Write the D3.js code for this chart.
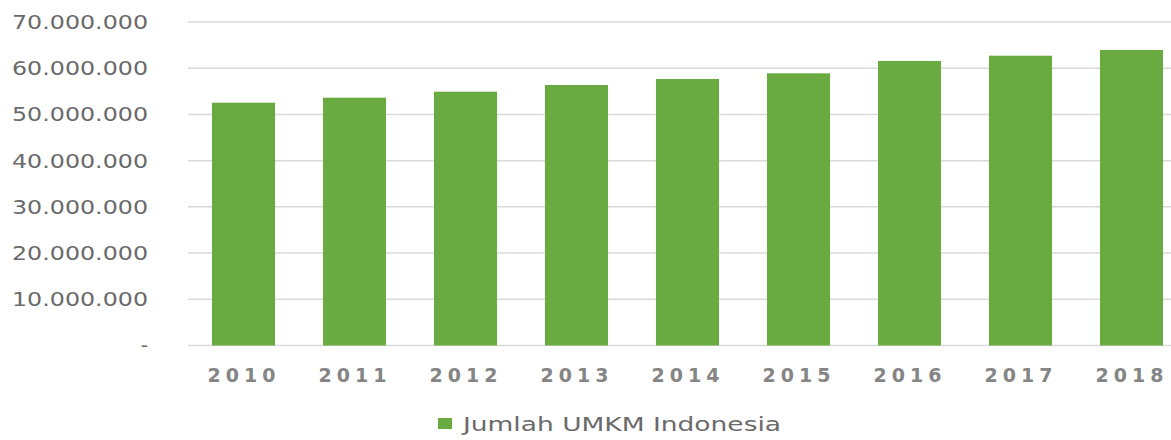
<!DOCTYPE html>
<html>
<head>
<meta charset="utf-8">
<script src="https://cdn.jsdelivr.net/npm/d3@7"></script>
<style>
  html, body { margin: 0; padding: 0; background: #fff; }
  svg { display: block; font-family: "DejaVu Sans", Verdana, sans-serif; }
</style>
</head>
<body>
<svg id="chart" width="1171" height="440"></svg>
<script>
// Number of MSMEs (UMKM) in Indonesia per year
const years = ["2010", "2011", "2012", "2013", "2014", "2015", "2016", "2017", "2018"];
const umkm = [52540000, 53620000, 54920000, 56370000, 57670000, 58900000, 61570000, 62710000, 63950000];
const yTicks = [0, 10000000, 20000000, 30000000, 40000000, 50000000, 60000000, 70000000];
const seriesName = "Jumlah UMKM Indonesia";

const W = 1171, H = 440;
const svg = d3.select("#chart");

const idLocale = d3.formatLocale({ decimal: ",", thousands: ".", grouping: [3], currency: ["Rp", ""] });
const fmt = idLocale.format(",.0f");

const x = d3.scaleBand()
  .domain(years)
  .range([188, 1187])
  .paddingInner(0.432)
  .paddingOuter(0.216);

const y = d3.scaleLinear()
  .domain([0, 70000000])
  .range([345.5, 22]);

const textColor = "#6a6a6a";
const green = "#6aab41";

// horizontal gridlines
svg.append("g")
  .selectAll("line")
  .data(yTicks)
  .join("line")
  .attr("x1", 188)
  .attr("x2", W)
  .attr("y1", d => y(d))
  .attr("y2", d => y(d))
  .attr("stroke", "#dadada")
  .attr("stroke-width", 1.5);

// bars
svg.append("g")
  .selectAll("rect")
  .data(years.map((yr, i) => ({ yr, v: umkm[i] })))
  .join("rect")
  .attr("x", d => x(d.yr))
  .attr("width", x.bandwidth())
  .attr("y", d => y(d.v))
  .attr("height", d => y(0) - y(d.v))
  .attr("fill", green);

// y axis labels
const yAxis = d3.axisLeft(y)
  .tickValues(yTicks)
  .tickSize(0)
  .tickPadding(0)
  .tickFormat(d => d === 0 ? "-" : fmt(d));

const gy = svg.append("g")
  .attr("transform", "translate(148,0)")
  .call(yAxis);
gy.select(".domain").remove();
gy.selectAll("text")
  .attr("fill", textColor)
  .attr("font-size", 20)
  .attr("font-family", "DejaVu Sans, sans-serif")
  .each(function (d) {
    if (d !== 0) {
      d3.select(this)
        .attr("textLength", 136)
        .attr("lengthAdjust", "spacingAndGlyphs");
    }
  });

// x axis labels
const xAxis = d3.axisBottom(x).tickSize(0).tickPadding(0);
const gx = svg.append("g")
  .attr("transform", "translate(0,368)")
  .call(xAxis);
gx.select(".domain").remove();
gx.selectAll("text")
  .attr("fill", "#858585")
  .attr("font-size", 19)
  .attr("font-weight", "bold")
  .attr("font-family", "DejaVu Sans, sans-serif")
  .attr("dy", "0.71em")
  .attr("dx", -2)
  .attr("textLength", 68)
  .attr("lengthAdjust", "spacing");

// legend
const lg = svg.append("g");
lg.append("rect")
  .attr("x", 438)
  .attr("y", 418)
  .attr("width", 14)
  .attr("height", 11)
  .attr("fill", green);
lg.append("text")
  .attr("x", 463)
  .attr("y", 424)
  .attr("dy", "0.35em")
  .attr("fill", textColor)
  .attr("font-size", 19)
  .attr("textLength", 318)
  .attr("lengthAdjust", "spacingAndGlyphs")
  .text(seriesName);
</script>
</body>
</html>
